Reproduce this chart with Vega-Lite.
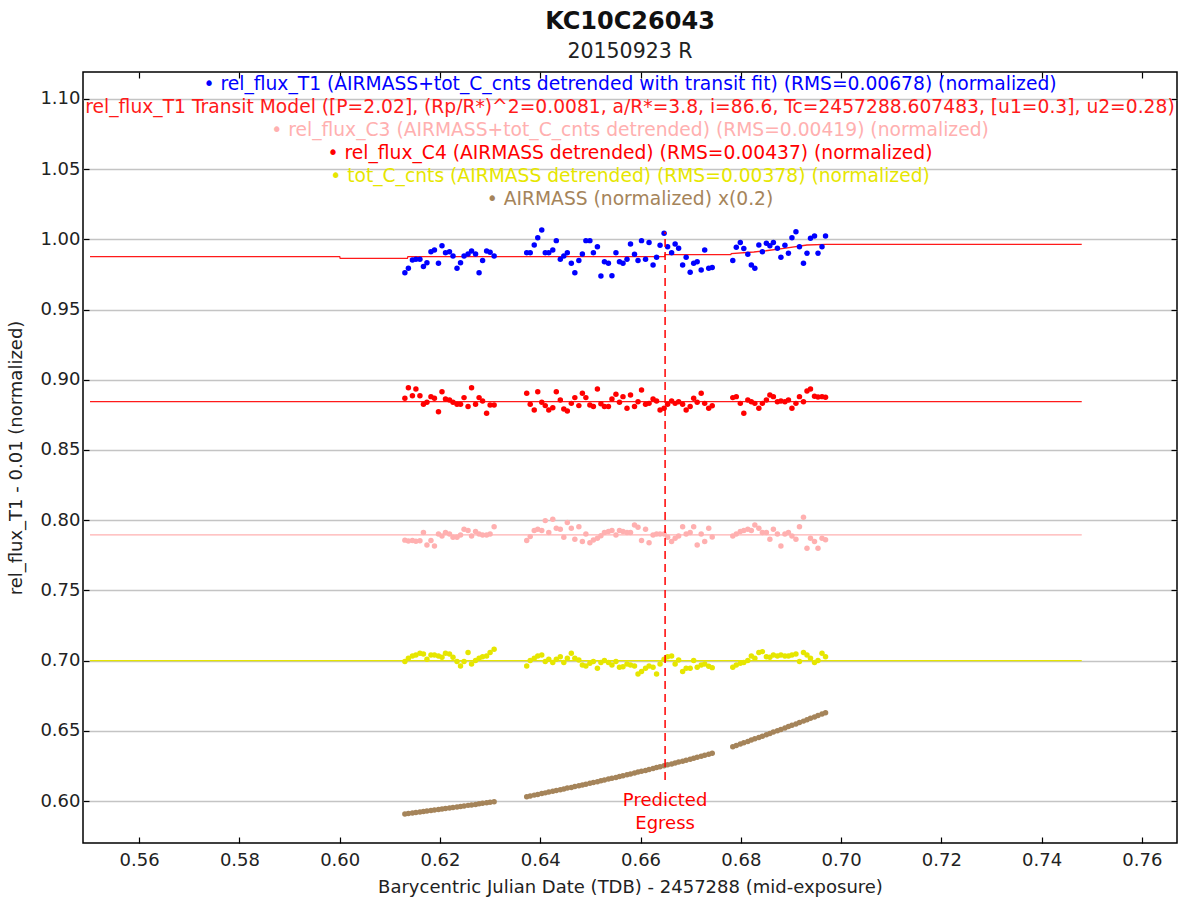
{
  "$schema": "https://vega.github.io/schema/vega-lite/v6.json",
  "width": 1094,
  "height": 771,
  "autosize": {"type": "none"},
  "padding": {"left": 83, "top": 72, "right": 3, "bottom": 56},
  "background": "white",
  "config": {"font": "DejaVu Sans", "view": {"stroke": "black", "strokeWidth": 1.5}},
  "title": {"text": "KC10C26043", "subtitle": "20150923 R", "font": "DejaVu Sans", "fontSize": 24, "fontWeight": "bold", "color": "#111", "subtitleFont": "DejaVu Sans", "subtitleFontSize": 20.5, "subtitleColor": "#222", "anchor": "middle", "offset": 9, "subtitlePadding": 7.5},
  "datasets": {
    "obs": [
      {"t":0.6130,"T1":0.9763,"C4":0.8868,"C3":0.7858,"tot":0.6993,"am":0.5908},
      {"t":0.6137,"T1":0.9794,"C4":0.8944,"C3":0.7852,"tot":0.7017,"am":0.5911},
      {"t":0.6145,"T1":0.9853,"C4":0.8887,"C3":0.7856,"tot":0.7033,"am":0.5915},
      {"t":0.6152,"T1":0.9858,"C4":0.8934,"C3":0.7850,"tot":0.7040,"am":0.5918},
      {"t":0.6160,"T1":0.9858,"C4":0.8887,"C3":0.7854,"tot":0.7052,"am":0.5922},
      {"t":0.6167,"T1":0.9806,"C4":0.8825,"C3":0.7912,"tot":0.7047,"am":0.5925},
      {"t":0.6174,"T1":0.9834,"C4":0.8840,"C3":0.7824,"tot":0.7009,"am":0.5929},
      {"t":0.6182,"T1":0.9912,"C4":0.8880,"C3":0.7855,"tot":0.7040,"am":0.5932},
      {"t":0.6189,"T1":0.9925,"C4":0.8868,"C3":0.7817,"tot":0.7040,"am":0.5936},
      {"t":0.6197,"T1":0.9830,"C4":0.8773,"C3":0.7902,"tot":0.7033,"am":0.5939},
      {"t":0.6204,"T1":0.9954,"C4":0.8915,"C3":0.7888,"tot":0.7024,"am":0.5943},
      {"t":0.6211,"T1":0.9905,"C4":0.8863,"C3":0.7912,"tot":0.7052,"am":0.5946},
      {"t":0.6219,"T1":0.9912,"C4":0.8856,"C3":0.7902,"tot":0.7047,"am":0.5950},
      {"t":0.6226,"T1":0.9882,"C4":0.8840,"C3":0.7878,"tot":0.7024,"am":0.5954},
      {"t":0.6234,"T1":0.9794,"C4":0.8825,"C3":0.7878,"tot":0.6993,"am":0.5957},
      {"t":0.6241,"T1":0.9834,"C4":0.8825,"C3":0.7895,"tot":0.6962,"am":0.5961},
      {"t":0.6248,"T1":0.9882,"C4":0.8873,"C3":0.7935,"tot":0.6993,"am":0.5965},
      {"t":0.6256,"T1":0.9896,"C4":0.8809,"C3":0.7926,"tot":0.7057,"am":0.5969},
      {"t":0.6263,"T1":0.9917,"C4":0.8944,"C3":0.7888,"tot":0.6976,"am":0.5972},
      {"t":0.6271,"T1":0.9896,"C4":0.8825,"C3":0.7919,"tot":0.7000,"am":0.5976},
      {"t":0.6278,"T1":0.9763,"C4":0.8873,"C3":0.7902,"tot":0.7017,"am":0.5980},
      {"t":0.6285,"T1":0.9849,"C4":0.8849,"C3":0.7895,"tot":0.7028,"am":0.5984},
      {"t":0.6293,"T1":0.9917,"C4":0.8761,"C3":0.7895,"tot":0.7033,"am":0.5988},
      {"t":0.6300,"T1":0.9908,"C4":0.8821,"C3":0.7902,"tot":0.7057,"am":0.5991},
      {"t":0.6308,"T1":0.9882,"C4":0.8821,"C3":0.7954,"tot":0.7081,"am":0.5995},
      {"t":0.6373,"T1":0.9905,"C4":0.8904,"C3":0.7855,"tot":0.6962,"am":0.6031},
      {"t":0.6380,"T1":0.9905,"C4":0.8825,"C3":0.7883,"tot":0.7000,"am":0.6036},
      {"t":0.6388,"T1":0.9960,"C4":0.8785,"C3":0.7926,"tot":0.7017,"am":0.6042},
      {"t":0.6395,"T1":1.0012,"C4":0.8915,"C3":0.7935,"tot":0.7033,"am":0.6047},
      {"t":0.6403,"T1":1.0067,"C4":0.8840,"C3":0.7926,"tot":0.7040,"am":0.6053},
      {"t":0.6410,"T1":0.9905,"C4":0.8816,"C3":0.7997,"tot":0.6993,"am":0.6058},
      {"t":0.6417,"T1":0.9905,"C4":0.8785,"C3":0.7912,"tot":0.7009,"am":0.6064},
      {"t":0.6425,"T1":0.9925,"C4":0.8801,"C3":0.8006,"tot":0.6986,"am":0.6069},
      {"t":0.6432,"T1":0.9991,"C4":0.8915,"C3":0.7942,"tot":0.7009,"am":0.6075},
      {"t":0.6440,"T1":0.9858,"C4":0.8856,"C3":0.7935,"tot":0.7028,"am":0.6080},
      {"t":0.6447,"T1":0.9882,"C4":0.8792,"C3":0.7878,"tot":0.6986,"am":0.6086},
      {"t":0.6454,"T1":0.9905,"C4":0.8778,"C3":0.7983,"tot":0.7017,"am":0.6092},
      {"t":0.6462,"T1":0.9830,"C4":0.8832,"C3":0.7942,"tot":0.7052,"am":0.6097},
      {"t":0.6469,"T1":0.9763,"C4":0.8873,"C3":0.7864,"tot":0.7017,"am":0.6103},
      {"t":0.6477,"T1":0.9849,"C4":0.8816,"C3":0.7954,"tot":0.7005,"am":0.6108},
      {"t":0.6484,"T1":0.9896,"C4":0.8904,"C3":0.7848,"tot":0.6969,"am":0.6114},
      {"t":0.6491,"T1":0.9991,"C4":0.8873,"C3":0.7902,"tot":0.6962,"am":0.6120},
      {"t":0.6499,"T1":0.9991,"C4":0.8821,"C3":0.7840,"tot":0.6981,"am":0.6126},
      {"t":0.6506,"T1":0.9905,"C4":0.8809,"C3":0.7859,"tot":0.6993,"am":0.6132},
      {"t":0.6514,"T1":0.9948,"C4":0.8934,"C3":0.7871,"tot":0.6945,"am":0.6138},
      {"t":0.6521,"T1":0.9739,"C4":0.8830,"C3":0.7890,"tot":0.6986,"am":0.6144},
      {"t":0.6528,"T1":0.9841,"C4":0.8809,"C3":0.7912,"tot":0.7000,"am":0.6150},
      {"t":0.6536,"T1":0.9830,"C4":0.8809,"C3":0.7919,"tot":0.6986,"am":0.6156},
      {"t":0.6543,"T1":0.9741,"C4":0.8863,"C3":0.7926,"tot":0.6969,"am":0.6162},
      {"t":0.6551,"T1":0.9905,"C4":0.8897,"C3":0.7895,"tot":0.6993,"am":0.6168},
      {"t":0.6558,"T1":0.9841,"C4":0.8840,"C3":0.7926,"tot":0.6953,"am":0.6174},
      {"t":0.6565,"T1":0.9830,"C4":0.8880,"C3":0.7919,"tot":0.6957,"am":0.6180},
      {"t":0.6573,"T1":0.9858,"C4":0.8797,"C3":0.7912,"tot":0.6976,"am":0.6187},
      {"t":0.6580,"T1":0.9967,"C4":0.8892,"C3":0.7912,"tot":0.6969,"am":0.6193},
      {"t":0.6588,"T1":0.9894,"C4":0.8809,"C3":0.7966,"tot":0.6962,"am":0.6199},
      {"t":0.6595,"T1":0.9849,"C4":0.8844,"C3":0.7950,"tot":0.6905,"am":0.6206},
      {"t":0.6602,"T1":0.9991,"C4":0.8927,"C3":0.7855,"tot":0.6922,"am":0.6212},
      {"t":0.6610,"T1":0.9858,"C4":0.8825,"C3":0.7935,"tot":0.6945,"am":0.6218},
      {"t":0.6617,"T1":0.9977,"C4":0.8832,"C3":0.7840,"tot":0.6962,"am":0.6225},
      {"t":0.6625,"T1":0.9818,"C4":0.8863,"C3":0.7895,"tot":0.6953,"am":0.6231},
      {"t":0.6632,"T1":0.9873,"C4":0.8849,"C3":0.7902,"tot":0.6905,"am":0.6238},
      {"t":0.6639,"T1":0.9958,"C4":0.8785,"C3":0.7902,"tot":0.6976,"am":0.6244},
      {"t":0.6647,"T1":1.0044,"C4":0.8797,"C3":0.7902,"tot":0.7009,"am":0.6251},
      {"t":0.6654,"T1":0.9948,"C4":0.8825,"C3":0.7878,"tot":0.7028,"am":0.6258},
      {"t":0.6662,"T1":0.9905,"C4":0.8849,"C3":0.7848,"tot":0.7033,"am":0.6264},
      {"t":0.6669,"T1":0.9967,"C4":0.8832,"C3":0.7871,"tot":0.6976,"am":0.6271},
      {"t":0.6676,"T1":0.9937,"C4":0.8844,"C3":0.7888,"tot":0.7005,"am":0.6278},
      {"t":0.6684,"T1":0.9818,"C4":0.8825,"C3":0.7954,"tot":0.6922,"am":0.6284},
      {"t":0.6691,"T1":0.9873,"C4":0.8785,"C3":0.7902,"tot":0.6945,"am":0.6291},
      {"t":0.6699,"T1":0.9766,"C4":0.8809,"C3":0.7912,"tot":0.6945,"am":0.6298},
      {"t":0.6706,"T1":0.9830,"C4":0.8868,"C3":0.7954,"tot":0.7000,"am":0.6305},
      {"t":0.6713,"T1":0.9841,"C4":0.8840,"C3":0.7824,"tot":0.6953,"am":0.6312},
      {"t":0.6721,"T1":0.9782,"C4":0.8904,"C3":0.7902,"tot":0.6969,"am":0.6319},
      {"t":0.6728,"T1":0.9925,"C4":0.8832,"C3":0.7848,"tot":0.6976,"am":0.6326},
      {"t":0.6736,"T1":0.9794,"C4":0.8797,"C3":0.7942,"tot":0.6960,"am":0.6333},
      {"t":0.6743,"T1":0.9800,"C4":0.8815,"C3":0.7880,"tot":0.6950,"am":0.6340},
      {"t":0.6784,"T1":0.9849,"C4":0.8873,"C3":0.7888,"tot":0.6953,"am":0.6387},
      {"t":0.6791,"T1":0.9944,"C4":0.8880,"C3":0.7902,"tot":0.6969,"am":0.6396},
      {"t":0.6799,"T1":0.9977,"C4":0.8832,"C3":0.7919,"tot":0.6981,"am":0.6406},
      {"t":0.6806,"T1":0.9935,"C4":0.8761,"C3":0.7926,"tot":0.6986,"am":0.6415},
      {"t":0.6814,"T1":0.9894,"C4":0.8856,"C3":0.7935,"tot":0.7000,"am":0.6424},
      {"t":0.6821,"T1":0.9818,"C4":0.8844,"C3":0.7926,"tot":0.7033,"am":0.6434},
      {"t":0.6828,"T1":0.9794,"C4":0.8832,"C3":0.7966,"tot":0.7017,"am":0.6443},
      {"t":0.6836,"T1":0.9960,"C4":0.8797,"C3":0.7942,"tot":0.7057,"am":0.6453},
      {"t":0.6843,"T1":0.9912,"C4":0.8832,"C3":0.7912,"tot":0.7064,"am":0.6462},
      {"t":0.6851,"T1":0.9972,"C4":0.8856,"C3":0.7912,"tot":0.7028,"am":0.6472},
      {"t":0.6858,"T1":0.9954,"C4":0.8892,"C3":0.7864,"tot":0.7024,"am":0.6481},
      {"t":0.6865,"T1":0.9977,"C4":0.8880,"C3":0.7935,"tot":0.7040,"am":0.6491},
      {"t":0.6873,"T1":0.9937,"C4":0.8844,"C3":0.7902,"tot":0.7033,"am":0.6501},
      {"t":0.6880,"T1":0.9873,"C4":0.8849,"C3":0.7817,"tot":0.7040,"am":0.6510},
      {"t":0.6888,"T1":0.9958,"C4":0.8844,"C3":0.7902,"tot":0.7033,"am":0.6520},
      {"t":0.6895,"T1":0.9901,"C4":0.8856,"C3":0.7912,"tot":0.7033,"am":0.6530},
      {"t":0.6902,"T1":1.0012,"C4":0.8797,"C3":0.7888,"tot":0.7040,"am":0.6540},
      {"t":0.6910,"T1":1.0055,"C4":0.8832,"C3":0.7864,"tot":0.7047,"am":0.6549},
      {"t":0.6917,"T1":0.9948,"C4":0.8880,"C3":0.7954,"tot":0.6993,"am":0.6559},
      {"t":0.6925,"T1":0.9830,"C4":0.8844,"C3":0.8021,"tot":0.7057,"am":0.6569},
      {"t":0.6932,"T1":0.9901,"C4":0.8920,"C3":0.7800,"tot":0.7040,"am":0.6579},
      {"t":0.6939,"T1":1.0008,"C4":0.8934,"C3":0.7871,"tot":0.7017,"am":0.6589},
      {"t":0.6947,"T1":1.0024,"C4":0.8882,"C3":0.7848,"tot":0.6986,"am":0.6599},
      {"t":0.6954,"T1":0.9901,"C4":0.8878,"C3":0.7800,"tot":0.7000,"am":0.6609},
      {"t":0.6962,"T1":0.9948,"C4":0.8880,"C3":0.7871,"tot":0.7052,"am":0.6619},
      {"t":0.6969,"T1":1.0024,"C4":0.8875,"C3":0.7860,"tot":0.7028,"am":0.6629}
    ],
    "model": [
      {"t":0.5502,"v":0.9877,"s":"T1m"},
      {"t":0.6000,"v":0.9877,"s":"T1m"},
      {"t":0.6001,"v":0.9865,"s":"T1m"},
      {"t":0.6135,"v":0.9865,"s":"T1m"},
      {"t":0.6136,"v":0.9877,"s":"T1m"},
      {"t":0.6648,"v":0.9877,"s":"T1m"},
      {"t":0.6649,"v":0.9891,"s":"T1m"},
      {"t":0.6780,"v":0.9891,"s":"T1m"},
      {"t":0.6781,"v":0.9898,"s":"T1m"},
      {"t":0.6826,"v":0.9910,"s":"T1m"},
      {"t":0.6850,"v":0.9919,"s":"T1m"},
      {"t":0.6886,"v":0.9936,"s":"T1m"},
      {"t":0.6932,"v":0.9960,"s":"T1m"},
      {"t":0.6970,"v":0.9965,"s":"T1m"},
      {"t":0.7480,"v":0.9965,"s":"T1m"},
      {"t":0.5502,"v":0.8845,"s":"C4m"},
      {"t":0.7480,"v":0.8845,"s":"C4m"},
      {"t":0.5502,"v":0.7895,"s":"C3m"},
      {"t":0.7480,"v":0.7895,"s":"C3m"},
      {"t":0.5502,"v":0.7000,"s":"totm"},
      {"t":0.7480,"v":0.7000,"s":"totm"}
    ],
    "legend": [
      {"rank":1,"label":"• rel_flux_T1 (AIRMASS+tot_C_cnts detrended with transit fit) (RMS=0.00678) (normalized)","series":"T1"},
      {"rank":2,"label":"rel_flux_T1 Transit Model ([P=2.02], (Rp/R*)^2=0.0081, a/R*=3.8, i=86.6, Tc=2457288.607483, [u1=0.3], u2=0.28)","series":"T1m"},
      {"rank":3,"label":"• rel_flux_C3 (AIRMASS+tot_C_cnts detrended) (RMS=0.00419) (normalized)","series":"C3"},
      {"rank":4,"label":"• rel_flux_C4 (AIRMASS detrended) (RMS=0.00437) (normalized)","series":"C4"},
      {"rank":5,"label":"• tot_C_cnts (AIRMASS detrended) (RMS=0.00378) (normalized)","series":"tot"},
      {"rank":6,"label":"• AIRMASS (normalized) x(0.2)","series":"am"}
    ],
    "egress": [
      {"t":0.6649,"y1":0.6150,"y2":1.0054,"ty":0.5964,"label":"Predicted\nEgress"}
    ]
  },
  "layer": [
    {
      "resolve": {"axis": {"x": "independent", "y": "independent"}},
      "layer": [
        {
          "data": {"name": "model"},
          "mark": {"type": "line", "strokeWidth": 1.3},
          "encoding": {
            "x": {"field": "t", "type": "quantitative",
              "scale": {"domain": [0.5488, 0.767], "nice": false, "zero": false},
              "axis": {"orient": "bottom", "values": [0.56,0.58,0.6,0.62,0.64,0.66,0.68,0.7,0.72,0.74,0.76], "format": ".2f",
                "title": "Barycentric Julian Date (TDB) - 2457288 (mid-exposure)", "grid": false, "domain": false,
                "tickSize": -6, "tickColor": "black", "tickWidth": 1.2, "labelFontSize": 18, "labelColor": "#222",
                "labelPadding": 14, "titleFontSize": 18, "titleFontWeight": "normal", "titleColor": "#222", "titlePadding": 9}},
            "y": {"field": "v", "type": "quantitative",
              "scale": {"domain": [0.5701, 1.1192], "nice": false, "zero": false},
              "axis": {"orient": "left", "values": [0.6,0.65,0.7,0.75,0.8,0.85,0.9,0.95,1.0,1.05,1.1], "format": ".2f",
                "title": "rel_flux_T1 - 0.01 (normalized)", "grid": true, "gridColor": "#c4c4c4", "gridWidth": 1.5, "domain": false,
                "tickSize": -6, "tickColor": "black", "tickWidth": 1.2, "labelFontSize": 18, "labelColor": "#222",
                "labelPadding": 9, "titleFontSize": 18, "titleFontWeight": "normal", "titleColor": "#222", "titlePadding": 14}},
            "color": {"field": "s", "type": "nominal", "legend": null,
              "scale": {"domain": ["T1","T1m","C3","C4","tot","am","C3m","C4m","totm"],
                        "range": ["#0000ff","#ff1a1a","#ffb0b0","#ff0000","#e6e600","#a5845a","#ffb0b0","#ff1a1a","#e6e600"]}},
            "detail": {"field": "s"}
          }
        },
        {
          "data": {"name": "obs"},
          "transform": [{"fold": ["T1","C3","C4","tot","am"], "as": ["series","v"]}],
          "mark": {"type": "circle", "size": 30, "opacity": 1},
          "encoding": {
            "x": {"field": "t", "type": "quantitative", "axis": null},
            "y": {"field": "v", "type": "quantitative", "axis": null},
            "color": {"field": "series", "type": "nominal", "legend": null}
          }
        },
        {
          "data": {"name": "egress"},
          "mark": {"type": "rule", "color": "#ff0000", "strokeWidth": 1.5, "strokeDash": [8, 5]},
          "encoding": {
            "x": {"field": "t", "type": "quantitative",
              "axis": {"orient": "top", "values": [0.56,0.58,0.6,0.62,0.64,0.66,0.68,0.7,0.72,0.74,0.76], "labels": false, "title": null,
                "grid": false, "domain": false, "tickSize": -6, "tickColor": "black", "tickWidth": 1.2}},
            "y": {"field": "y1", "type": "quantitative",
              "axis": {"orient": "right", "values": [0.6,0.65,0.7,0.75,0.8,0.85,0.9,0.95,1.0,1.05,1.1], "labels": false, "title": null,
                "grid": false, "domain": false, "tickSize": -6, "tickColor": "black", "tickWidth": 1.2}},
            "y2": {"field": "y2"}
          }
        },
        {
          "data": {"name": "egress"},
          "mark": {"type": "text", "color": "#ff0000", "fontSize": 18, "align": "center", "baseline": "alphabetic", "lineBreak": "\n", "lineHeight": 23},
          "encoding": {
            "x": {"field": "t", "type": "quantitative", "axis": null},
            "y": {"field": "ty", "type": "quantitative", "axis": null},
            "text": {"field": "label"}
          }
        }
      ]
    },
    {
      "data": {"name": "legend"},
      "mark": {"type": "text", "x": {"expr": "width/2"}, "align": "center", "baseline": "middle", "fontSize": 18.7},
      "encoding": {
        "y": {"field": "rank", "type": "quantitative", "scale": {"domain": [0.5, 33.88], "reverse": true, "nice": false, "zero": false}, "axis": null},
        "color": {"field": "series", "type": "nominal", "legend": null},
        "text": {"field": "label"}
      }
    }
  ],
  "resolve": {"scale": {"y": "independent"}}
}
